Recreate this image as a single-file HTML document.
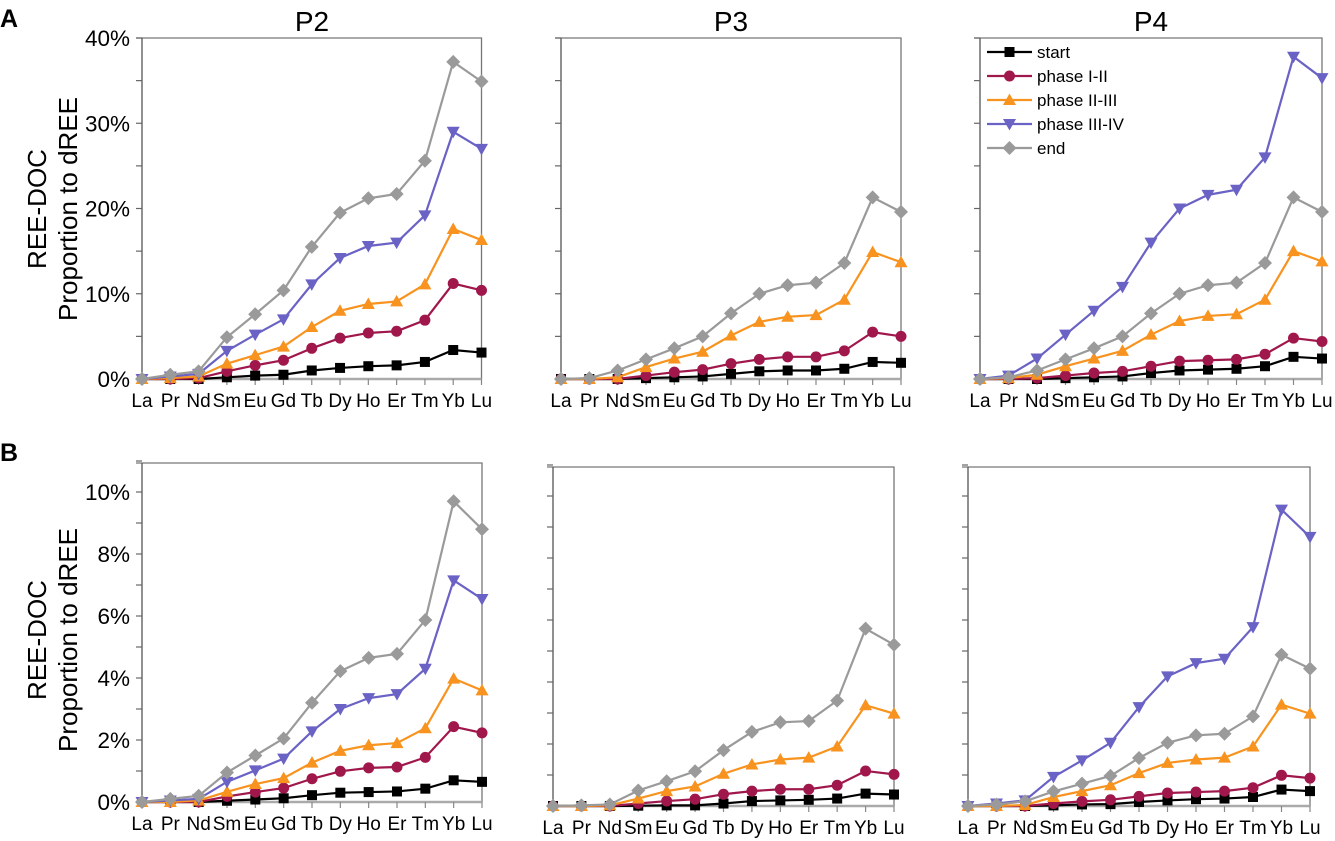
<!DOCTYPE html>
<html><head><meta charset="utf-8"><style>
html,body{margin:0;padding:0;background:#fff;}
svg{display:block;font-family:"Liberation Sans",Arial,sans-serif;}
</style></head><body>
<svg id="fig" width="1335" height="841" viewBox="0 0 1335 841" xmlns="http://www.w3.org/2000/svg">
<text x="0" y="27" font-size="25" font-weight="bold">A</text>
<text x="0" y="461" font-size="25" font-weight="bold">B</text>
<text x="312" y="31" font-size="28" text-anchor="middle">P2</text>
<text x="731" y="31" font-size="28" text-anchor="middle">P3</text>
<text x="1151" y="31" font-size="28" text-anchor="middle">P4</text>
<text transform="translate(46,209) rotate(-90)" font-size="26" text-anchor="middle">REE-DOC</text>
<text transform="translate(77,209) rotate(-90)" font-size="26" text-anchor="middle">Proportion to dREE</text>
<text transform="translate(46,640) rotate(-90)" font-size="26" text-anchor="middle">REE-DOC</text>
<text transform="translate(77,640) rotate(-90)" font-size="26" text-anchor="middle">Proportion to dREE</text>
<g id="plots"></g>
</svg>
<script>
const categories = ["La","Pr","Nd","Sm","Eu","Gd","Tb","Dy","Ho","Er","Tm","Yb","Lu"];
const seriesNames = ["start","phase I-II","phase II-III","phase III-IV","end"];
// Row A (%)
const aP2Start = [0,0,0,0.2,0.4,0.5,1.0,1.3,1.5,1.6,2.0,3.4,3.1];
const aP2Ph12  = [0,0,0.1,0.9,1.6,2.2,3.6,4.8,5.4,5.6,6.9,11.2,10.4];
const aP2Ph23  = [0,0.1,0.3,1.8,2.8,3.8,6.1,8.0,8.8,9.1,11.1,17.6,16.3];
const aP2Ph34  = [0,0.3,0.6,3.3,5.2,7.0,11.1,14.2,15.6,16.0,19.2,29.0,27.0];
const aP2End   = [0,0.5,0.9,4.9,7.6,10.4,15.5,19.5,21.2,21.7,25.6,37.2,34.9];
const aP3Start = [0,0,0,0.1,0.2,0.3,0.6,0.9,1.0,1.0,1.2,2.0,1.9];
const aP3Ph12  = [0,0,0,0.4,0.8,1.1,1.8,2.3,2.6,2.6,3.3,5.5,5.0];
const aP3Ph23  = [0,0,0.2,1.4,2.4,3.2,5.1,6.7,7.3,7.5,9.3,14.9,13.7];
const aP3End   = [0,0.1,1.0,2.3,3.6,5.0,7.7,10.0,11.0,11.3,13.6,21.3,19.6];
const aP4Start = [0,0,0,0.1,0.2,0.3,0.7,1.0,1.1,1.2,1.5,2.6,2.4];
const aP4Ph12  = [0,0,0.1,0.4,0.7,0.9,1.5,2.1,2.2,2.3,2.9,4.8,4.4];
const aP4Ph23  = [0,0.1,0.5,1.5,2.4,3.3,5.2,6.8,7.4,7.6,9.3,15.0,13.8];
const aP4Ph34  = [0,0.4,2.4,5.2,8.0,10.8,16.0,20.0,21.6,22.2,26.0,37.8,35.3];
const aP4End   = [0,0.2,1.0,2.3,3.6,5.0,7.7,10.0,11.0,11.3,13.6,21.3,19.6];
// Row B (%)
const bP2Start = [0,0,0,0.04,0.08,0.12,0.22,0.3,0.32,0.34,0.43,0.7,0.65];
const bP2Ph12  = [0,0,0,0.18,0.32,0.45,0.75,0.99,1.1,1.13,1.44,2.43,2.23];
const bP2Ph23  = [0,0,0.05,0.33,0.58,0.77,1.27,1.65,1.83,1.9,2.38,3.98,3.6];
const bP2Ph34  = [0,0.05,0.1,0.65,1.02,1.4,2.28,3.0,3.35,3.48,4.3,7.15,6.55];
const bP2End   = [0,0.1,0.2,0.95,1.5,2.05,3.2,4.22,4.65,4.78,5.87,9.7,8.8];
const bP3Start = [0,0,0,0.01,0.02,0.02,0.08,0.16,0.18,0.2,0.24,0.4,0.37];
const bP3Ph12  = [0,0,0,0.08,0.16,0.22,0.38,0.48,0.54,0.54,0.67,1.13,1.02];
const bP3Ph23  = [0,0,0.02,0.24,0.48,0.63,1.04,1.34,1.5,1.56,1.92,3.25,2.98];
const bP3End   = [0,0.02,0.05,0.5,0.8,1.12,1.8,2.39,2.7,2.74,3.4,5.72,5.2];
const bP4Start = [0,0,0,0.02,0.05,0.06,0.13,0.18,0.22,0.24,0.29,0.53,0.48];
const bP4Ph12  = [0,0,0,0.08,0.15,0.2,0.31,0.42,0.45,0.48,0.59,0.99,0.9];
const bP4Ph23  = [0,0,0.03,0.29,0.48,0.67,1.06,1.39,1.5,1.56,1.92,3.27,2.98];
const bP4Ph34  = [0,0.08,0.18,0.94,1.47,2.04,3.19,4.18,4.61,4.75,5.77,9.56,8.68];
const bP4End   = [0,0.05,0.15,0.47,0.72,0.97,1.55,2.04,2.28,2.33,2.89,4.88,4.43];
const aTickLabels = ["0%","10%","20%","30%","40%"];
const bTickLabels = ["0%","2%","4%","6%","8%","10%"];

const COLORS = ["#000000","#a0174c","#f7931e","#6a62c4","#9a9a9a"];
const MARKERS = ["square","circle","tri-up","tri-down","diamond"];
const NS = "http://www.w3.org/2000/svg";
const root = document.getElementById("plots");
function mk(tag, attrs, parent){
  const e = document.createElementNS(NS, tag);
  for (const k in attrs) e.setAttribute(k, attrs[k]);
  (parent||root).appendChild(e); return e;
}
function marker(type, x, y, color, g){
  let e;
  if (type==="square") e = mk("rect",{x:x-5,y:y-5,width:10,height:10,fill:color},g);
  else if (type==="circle") e = mk("circle",{cx:x,cy:y,r:5.5,fill:color},g);
  else if (type==="tri-up") e = mk("polygon",{points:`${x},${y-6.5} ${x+6.5},${y+5} ${x-6.5},${y+5}`,fill:color},g);
  else if (type==="tri-down") e = mk("polygon",{points:`${x},${y+6.5} ${x+6.5},${y-5} ${x-6.5},${y-5}`,fill:color},g);
  else e = mk("polygon",{points:`${x},${y-7} ${x+7},${y} ${x},${y+7} ${x-7},${y}`,fill:color},g);
  return e;
}
function panel(cfg){
  const g = mk("g",{});
  
  
  const xs = i => cfg.x0 + (cfg.x1-cfg.x0)*i/(categories.length-1);
  const ys = v => cfg.zero - v*cfg.ppu;
  const fr = mk("path",{d:`M${cfg.x0-6},${cfg.top} H${cfg.x1} V${cfg.zero}`,fill:"none",stroke:"#777","stroke-width":1.3},g);
  
  
  const ya = mk("line",{x1:cfg.x0,y1:cfg.top,x2:cfg.x0,y2:cfg.zero+5,stroke:"#555","stroke-width":1.3},g);
  
  
  for (let v=0; v<=cfg.maxTick+1e-9; v+=cfg.minor){
    const y = ys(v);
    const t = mk("line",{x1:cfg.x0-6,y1:y,x2:cfg.x0,y2:y,stroke:"#666","stroke-width":1.2},g);
    
    
  }
  if (cfg.labels){
    cfg.labels.forEach((lab,i)=>{
      const t = mk("text",{x:cfg.x0-12,y:ys(i*cfg.major)+8,"font-size":22.5,"text-anchor":"end"},g);
      t.textContent = lab;
      
      
    });
  }
  const xa = mk("line",{x1:cfg.x0,y1:cfg.zero,x2:cfg.x1,y2:cfg.zero,stroke:"#aaa","stroke-width":2.5},g);
  
  
  categories.forEach((c,i)=>{
    const tk = mk("line",{x1:xs(i),y1:cfg.zero,x2:xs(i),y2:cfg.zero+6,stroke:"#888","stroke-width":1.2},g);
    
    
    const t = mk("text",{x:xs(i),y:cfg.zero+28,"font-size":19,"text-anchor":"middle"},g);
    t.textContent = c;
    
    
  });
  cfg.series.forEach(s=>{
    if (!s.vals) return;
    const sg = mk("g",{},g);
    
    
    const pts = s.vals.map((v,i)=>xs(i)+","+ys(v)).join(" ");
    const pl = mk("polyline",{points:pts,fill:"none",stroke:COLORS[s.k],"stroke-width":2.2},sg);
    
    
    s.vals.forEach((v,i)=>{
      const m = marker(MARKERS[s.k], xs(i), ys(v), COLORS[s.k], sg);
      
      
    });
  });
}
const A = {top:38, zero:379, ppu:8.525, minor:5, major:10, maxTick:40};
const B = {minor:1, major:2, ppu:31, maxTick:11};
panel(Object.assign({name:"panel-a-p2",x0:142,x1:481.5,labels:aTickLabels,series:[
  {k:0,vals:aP2Start},{k:1,vals:aP2Ph12},{k:2,vals:aP2Ph23},{k:3,vals:aP2Ph34},{k:4,vals:aP2End}]},A));
panel(Object.assign({name:"panel-a-p3",x0:561,x1:901,series:[
  {k:0,vals:aP3Start},{k:1,vals:aP3Ph12},{k:2,vals:aP3Ph23},{k:4,vals:aP3End}]},A));
panel(Object.assign({name:"panel-a-p4",x0:980,x1:1322,series:[
  {k:0,vals:aP4Start},{k:1,vals:aP4Ph12},{k:2,vals:aP4Ph23},{k:3,vals:aP4Ph34},{k:4,vals:aP4End}]},A));
panel(Object.assign({name:"panel-b-p2",x0:142,x1:482,top:463,zero:802,labels:bTickLabels,maxTick:10,series:[
  {k:0,vals:bP2Start},{k:1,vals:bP2Ph12},{k:2,vals:bP2Ph23},{k:3,vals:bP2Ph34},{k:4,vals:bP2End}]},B));
panel(Object.assign({name:"panel-b-p3",x0:553,x1:894,top:467,zero:806,series:[
  {k:0,vals:bP3Start},{k:1,vals:bP3Ph12},{k:2,vals:bP3Ph23},{k:4,vals:bP3End}]},B));
panel(Object.assign({name:"panel-b-p4",x0:968,x1:1310,top:467,zero:806,series:[
  {k:0,vals:bP4Start},{k:1,vals:bP4Ph12},{k:2,vals:bP4Ph23},{k:3,vals:bP4Ph34},{k:4,vals:bP4End}]},B));
const lg = mk("g",{});


seriesNames.forEach((n,i)=>{
  const y = 52 + i*24;
  const eg = mk("g",{},lg);
  
  
  mk("line",{x1:987,y1:y,x2:1032,y2:y,stroke:COLORS[i],"stroke-width":2.2},eg);
  marker(MARKERS[i],1009.5,y,COLORS[i],eg);
  const t = mk("text",{x:1037,y:y+6,"font-size":17},eg);
  t.textContent = n;
});
</script>
</body></html>
